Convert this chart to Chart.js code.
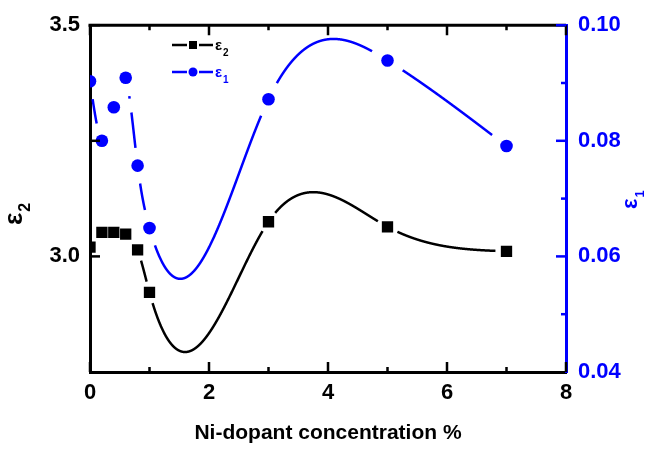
<!DOCTYPE html>
<html>
<head>
<meta charset="utf-8">
<script src="https://cdn.jsdelivr.net/npm/chart.js@4.4.1/dist/chart.umd.min.js"></script>
<style>
  html, body { margin: 0; padding: 0; background: #fff; }
</style>
</head>
<body>
<canvas id="chart" width="649" height="449"></canvas>
<script>
// data
const concentration = [0, 0.2, 0.4, 0.6, 0.8, 1, 3, 5, 7];
const eps2 = [3.02, 3.052, 3.052, 3.048, 3.014, 2.922, 3.075, 3.064, 3.011];
const eps1 = [0.0903, 0.080, 0.0858, 0.0909, 0.0757, 0.0649, 0.0872, 0.0939, 0.0791];

const xTicks = [0, 2, 4, 6, 8];
const leftTicks = [3.0, 3.5];
const rightTicks = [0.04, 0.06, 0.08, 0.10];

const FONT = "'Liberation Sans', Arial, sans-serif";
const BLUE = "#0000ff";

function toPoints(xs, ys) {
  return xs.map((x, i) => ({ x: x, y: ys[i] }));
}

// natural cubic spline through the data (how the original curve was drawn)
function naturalSpline(xs, ys) {
  const n = xs.length;
  const h = [];
  for (let i = 0; i < n - 1; i++) h[i] = xs[i + 1] - xs[i];
  const l = new Array(n).fill(1), mu = new Array(n).fill(0), z = new Array(n).fill(0);
  for (let i = 1; i < n - 1; i++) {
    const alpha = (3 / h[i]) * (ys[i + 1] - ys[i]) - (3 / h[i - 1]) * (ys[i] - ys[i - 1]);
    l[i] = 2 * (xs[i + 1] - xs[i - 1]) - h[i - 1] * mu[i - 1];
    mu[i] = h[i] / l[i];
    z[i] = (alpha - h[i - 1] * z[i - 1]) / l[i];
  }
  const c = new Array(n).fill(0), b = [], d = [];
  for (let j = n - 2; j >= 0; j--) {
    c[j] = z[j] - mu[j] * c[j + 1];
    b[j] = (ys[j + 1] - ys[j]) / h[j] - (h[j] * (c[j + 1] + 2 * c[j])) / 3;
    d[j] = (c[j + 1] - c[j]) / (3 * h[j]);
  }
  return function (x) {
    let i = 0;
    while (i < n - 2 && x > xs[i + 1]) i++;
    const dx = x - xs[i];
    return ys[i] + b[i] * dx + c[i] * dx * dx + d[i] * dx * dx * dx;
  };
}

// spline curves, with a gap round each symbol
const splinePlugin = {
  id: "spline",
  beforeDatasetsDraw(chart) {
    const ctx = chart.ctx;
    const area = chart.chartArea;
    const xScale = chart.scales.x;
    ctx.save();
    ctx.beginPath();
    ctx.rect(area.left, area.top, area.right - area.left, area.bottom - area.top);
    ctx.clip();
    chart.data.datasets.forEach((ds) => {
      const yScale = chart.scales[ds.yAxisID];
      const xs = ds.data.map((p) => p.x);
      const ys = ds.data.map((p) => p.y);
      const f = naturalSpline(xs, ys);
      const marks = ds.data.map((p) => [xScale.getPixelForValue(p.x), yScale.getPixelForValue(p.y)]);
      const gap = ds.curveGap;
      ctx.strokeStyle = ds.borderColor;
      ctx.lineWidth = 2.5;
      ctx.lineJoin = "round";
      ctx.beginPath();
      let drawing = false;
      const x0 = xs[0], x1 = xs[xs.length - 1];
      for (let x = x0; x <= x1 + 1e-9; x += 0.002) {
        const px = xScale.getPixelForValue(x);
        const py = yScale.getPixelForValue(f(x));
        const hidden = marks.some((m) => Math.hypot(m[0] - px, m[1] - py) < gap);
        if (hidden) {
          drawing = false;
        } else if (!drawing) {
          ctx.moveTo(px, py);
          drawing = true;
        } else {
          ctx.lineTo(px, py);
        }
      }
      ctx.stroke();
    });
    ctx.restore();
  },
};

// epsilon with a numeric subscript
function drawEps(ctx, x, y, sub, size, subSize, subDrop, color) {
  ctx.fillStyle = color;
  ctx.textBaseline = "alphabetic";
  ctx.textAlign = "left";
  ctx.font = "bold " + size + "px " + FONT;
  ctx.fillText("\u03b5", x, y);
  const w = ctx.measureText("\u03b5").width;
  ctx.font = "bold " + subSize + "px " + FONT;
  ctx.fillText(sub, x + w + 1, y + subDrop);
}

// frame, inward ticks, legend and the two y titles
const framePlugin = {
  id: "frame",
  afterDraw(chart) {
    const ctx = chart.ctx;
    const a = chart.chartArea;
    const x = chart.scales.x, y = chart.scales.y, y1 = chart.scales.y1;
    ctx.save();
    ctx.lineWidth = 3;
    ctx.strokeStyle = "#000";
    ctx.beginPath();
    ctx.moveTo(a.left - 1.5, a.top);
    ctx.lineTo(a.right, a.top);
    ctx.stroke();

    ctx.lineWidth = 2.5;
    for (let v = 0; v <= 8; v++) {
      const px = x.getPixelForValue(v);
      const len = v % 2 === 0 ? 10 : 5;
      ctx.beginPath();
      ctx.moveTo(px, a.bottom);
      ctx.lineTo(px, a.bottom - len);
      ctx.moveTo(px, a.top);
      ctx.lineTo(px, a.top + len);
      ctx.stroke();
    }
    [3.0, 3.25, 3.5].forEach((v) => {
      const py = y.getPixelForValue(v);
      ctx.beginPath();
      ctx.moveTo(a.left, py);
      ctx.lineTo(a.left + 10, py);
      ctx.stroke();
    });
    ctx.strokeStyle = BLUE;
    [0.05, 0.06, 0.07, 0.08, 0.09, 0.10].forEach((v, i) => {
      const py = y1.getPixelForValue(v);
      const len = i % 2 === 1 ? 10 : 5;
      ctx.beginPath();
      ctx.moveTo(a.right, py);
      ctx.lineTo(a.right - len, py);
      ctx.stroke();
    });

    // legend
    const items = [
      { color: "#000", sub: "2", y: 45, style: "rect" },
      { color: BLUE, sub: "1", y: 72, style: "circle" },
    ];
    items.forEach((it) => {
      ctx.strokeStyle = it.color;
      ctx.fillStyle = it.color;
      ctx.lineWidth = 2.5;
      ctx.beginPath();
      ctx.moveTo(172, it.y);
      ctx.lineTo(187, it.y);
      ctx.moveTo(199, it.y);
      ctx.lineTo(213, it.y);
      ctx.stroke();
      if (it.style === "rect") {
        ctx.fillRect(189, it.y - 4, 8, 8);
      } else {
        ctx.beginPath();
        ctx.arc(193, it.y, 4.5, 0, Math.PI * 2);
        ctx.fill();
      }
      drawEps(ctx, 215, it.y + 5, it.sub, 15, 10, 6, it.color);
    });

    // rotated y titles
    [
      { cx: 14, cy: 212, sub: "2", size: 26, color: "#000" },
      { cx: 629, cy: 196, sub: "1", size: 22, color: BLUE },
    ].forEach((t) => {
      ctx.save();
      ctx.translate(t.cx, t.cy);
      ctx.rotate(-Math.PI / 2);
      drawEps(ctx, -13, 8, t.sub, t.size, Math.round(t.size * 0.6), Math.round(t.size * 0.3), t.color);
      ctx.restore();
    });
    ctx.restore();
  },
};

const ctx = document.getElementById("chart").getContext("2d");
const chart = new Chart(ctx, {
  type: "line",
  data: {
    datasets: [
      {
        label: "\u03b52",
        data: toPoints(concentration, eps2),
        yAxisID: "y",
        showLine: false,
        pointStyle: "rect",
        pointRadius: 8,
        pointBackgroundColor: "#000",
        pointBorderWidth: 0,
        borderColor: "#000",
        curveGap: 11,
        clip: 0,
      },
      {
        label: "\u03b51",
        data: toPoints(concentration, eps1),
        yAxisID: "y1",
        showLine: false,
        pointStyle: "circle",
        pointRadius: 6.3,
        pointBackgroundColor: BLUE,
        pointBorderWidth: 0,
        borderColor: BLUE,
        curveGap: 18,
        clip: 0,
      },
    ],
  },
  options: {
    responsive: false,
    animation: false,
    layout: { padding: { top: 20, left: 0, right: 0, bottom: 0 } },
    plugins: { legend: { display: false }, tooltip: { enabled: false } },
    scales: {
      x: {
        type: "linear",
        min: 0,
        max: 8,
        afterFit(scale) { scale.height = 77; },
        afterBuildTicks(scale) { scale.ticks = xTicks.map((v) => ({ value: v })); },
        grid: { drawOnChartArea: false, drawTicks: false },
        border: { display: true, width: 3, color: "#000" },
        ticks: {
          padding: 8,
          color: "#000",
          font: { family: FONT, size: 22, weight: "bold" },
          callback: (v) => String(v),
        },
        title: {
          display: true,
          text: "Ni-dopant concentration %",
          color: "#000",
          font: { family: FONT, size: 21, weight: "bold" },
          padding: { top: 0, bottom: 3 },
        },
      },
      y: {
        type: "linear",
        position: "left",
        min: 2.75,
        max: 3.5,
        afterFit(scale) { scale.width = 90; },
        afterBuildTicks(scale) { scale.ticks = leftTicks.map((v) => ({ value: v })); },
        grid: { drawOnChartArea: false, drawTicks: false },
        border: { display: true, width: 3, color: "#000" },
        ticks: {
          padding: 10,
          color: "#000",
          font: { family: FONT, size: 22, weight: "bold" },
          callback: (v) => Number(v).toFixed(1),
        },
      },
      y1: {
        type: "linear",
        position: "right",
        min: 0.04,
        max: 0.10,
        afterFit(scale) { scale.width = 83; },
        afterBuildTicks(scale) { scale.ticks = rightTicks.map((v) => ({ value: v })); },
        grid: { drawOnChartArea: false, drawTicks: false },
        border: { display: true, width: 3, color: BLUE },
        ticks: {
          padding: 12,
          color: BLUE,
          font: { family: FONT, size: 22, weight: "bold" },
          callback: (v) => Number(v).toFixed(2),
        },
      },
    },
  },
  plugins: [splinePlugin, framePlugin],
});
</script>
</body>
</html>
